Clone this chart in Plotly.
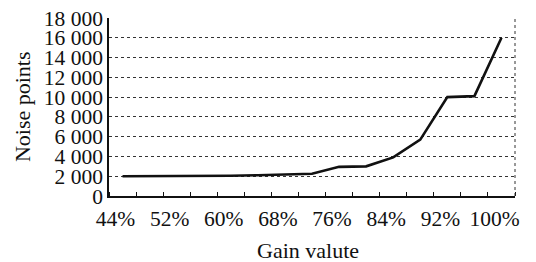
import plotly.graph_objects as go

gain_pct = [44, 48, 52, 56, 60, 64, 68, 72, 76, 80, 84, 88, 92, 96, 100]
noise_points = [2000, 2000, 2000, 2000, 2050, 2100, 2150, 2250, 2950, 3000, 3900, 5700, 10000, 10100, 16000]
x_tick_vals = [44, 52, 60, 68, 76, 84, 92, 100]
x_tick_text = [f"{v}%" for v in x_tick_vals]
y_tick_vals = list(range(0, 18001, 2000))

FONT = "Liberation Serif"

fig = go.Figure()
fig.add_trace(go.Scatter(
    x=gain_pct, y=noise_points, mode="lines",
    line=dict(color="#111111", width=2.6),
    showlegend=False,
))

# page body has an 8px default margin, so the figure is 8px smaller
fig.update_layout(
    width=528, height=254,
    margin=dict(l=101, r=21, t=10, b=66, autoexpand=False),
    paper_bgcolor="white", plot_bgcolor="white",
    separators=". ",
    font=dict(family=FONT, size=21.5, color="#111111"),
    xaxis=dict(
        range=[42, 102], automargin=False,
        tickmode="array", tickvals=x_tick_vals, ticktext=x_tick_text,
        ticks="", showgrid=False, zeroline=False,
        showline=True, linecolor="#111111", linewidth=1.5,
        ticklabelshift=-7, ticklabelstandoff=2, ticklabeloverflow="allow",
        minor=dict(tick0=46, dtick=4, ticks="inside", ticklen=4,
                   tickcolor="#111111", tickwidth=1, showgrid=False),
        tickfont=dict(family=FONT, size=21.5),
    ),
    yaxis=dict(
        range=[0, 18000], automargin=False,
        tickmode="array", tickvals=y_tick_vals, tickformat=",d",
        ticks="", zeroline=False, ticklabeloverflow="allow",
        showgrid=True, gridcolor="#333333", griddash="dot", gridwidth=1,
        showline=True, linecolor="#111111", linewidth=1.5,
        tickfont=dict(family=FONT, size=21.5),
    ),
    shapes=[
        dict(type="line", xref="paper", yref="paper", x0=1, x1=1, y0=0, y1=1,
             line=dict(color="#333333", width=1, dash="dot")),
    ],
    annotations=[
        dict(text="Gain valute", xref="paper", yref="paper", x=0.49, y=-0.305,
             xanchor="center", yanchor="middle", showarrow=False,
             font=dict(family=FONT, size=22)),
        dict(text="Noise points", xref="paper", yref="paper", x=-0.214, y=0.5,
             xanchor="center", yanchor="middle", showarrow=False, textangle=-90,
             font=dict(family=FONT, size=22)),
    ],
)

fig.write_html("out.html")
